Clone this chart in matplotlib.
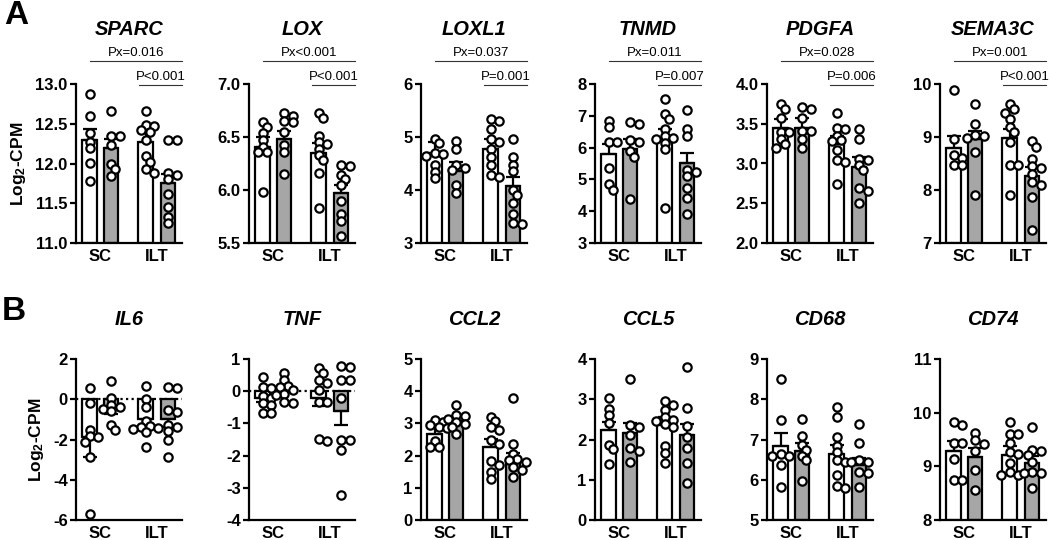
import matplotlib
matplotlib.use('Agg')
import matplotlib.pyplot as plt
import matplotlib.transforms as mtransforms

plt.rcParams['font.family'] = ['Liberation Sans', 'DejaVu Sans']
plt.rcParams['mathtext.default'] = 'regular'
plt.rcParams['axes.unicode_minus'] = False

groups = ['SC', 'ILT']
# order of bars: SC white, SC gray, ILT white, ILT gray

# ---- panel A ----
sparc_pts = [[12.88, 12.60, 12.38, 12.27, 12.19, 12.01, 11.78],
             [12.66, 12.35, 12.35, 12.23, 11.99, 11.93, 11.84],
             [12.66, 12.48, 12.47, 12.42, 12.40, 12.30, 12.09, 12.02, 11.93, 11.88],
             [12.30, 12.29, 11.88, 11.85, 11.80, 11.62, 11.45, 11.33, 11.25]]
sparc_mean = [12.30, 12.19, 12.27, 11.75]
sparc_sem = [0.14, 0.12, 0.13, 0.12]

lox_pts = [[6.64, 6.59, 6.54, 6.47, 6.41, 6.36, 6.36, 5.98],
           [6.73, 6.70, 6.65, 6.64, 6.55, 6.42, 6.36, 6.15],
           [6.73, 6.68, 6.51, 6.45, 6.43, 6.39, 6.33, 6.28, 6.16, 5.83],
           [6.24, 6.23, 6.14, 6.10, 6.05, 5.90, 5.77, 5.71, 5.57]]
lox_mean = [6.41, 6.48, 6.35, 5.97]
lox_sem = [0.09, 0.08, 0.09, 0.08]

loxl1_pts = [[4.97, 4.88, 4.70, 4.67, 4.65, 4.47, 4.34, 4.22],
             [4.93, 4.78, 4.47, 4.42, 4.38, 4.10, 3.94],
             [5.34, 5.31, 5.15, 4.96, 4.90, 4.78, 4.62, 4.47, 4.28, 4.25],
             [4.96, 4.62, 4.47, 4.35, 4.00, 3.91, 3.76, 3.54, 3.38, 3.35]]
loxl1_mean = [4.69, 4.35, 4.78, 4.08]
loxl1_sem = [0.21, 0.18, 0.18, 0.17]

tnmd_pts = [[6.84, 6.64, 6.17, 6.17, 5.35, 4.85, 4.67],
            [6.81, 6.74, 6.25, 6.17, 5.88, 5.70, 4.39],
            [7.54, 7.05, 6.90, 6.58, 6.38, 6.30, 6.27, 6.15, 5.96, 4.11],
            [7.18, 6.58, 6.38, 5.30, 5.22, 5.10, 4.73, 4.40, 3.90]]
tnmd_mean = [5.81, 5.96, 6.27, 5.53]
tnmd_sem = [0.31, 0.31, 0.31, 0.31]

pdgfa_pts = [[3.75, 3.69, 3.57, 3.39, 3.39, 3.31, 3.24, 3.19],
             [3.71, 3.68, 3.57, 3.41, 3.41, 3.31, 3.19],
             [3.63, 3.45, 3.43, 3.35, 3.29, 3.28, 3.17, 3.04, 3.02, 2.74],
             [3.44, 3.31, 3.06, 3.04, 2.98, 2.92, 2.69, 2.65, 2.50]]
pdgfa_mean = [3.45, 3.45, 3.25, 2.95]
pdgfa_sem = [0.11, 0.12, 0.10, 0.13]

sema3c_pts = [[9.88, 8.96, 8.66, 8.60, 8.48, 8.47],
              [9.63, 9.24, 9.04, 9.01, 8.98, 8.72, 7.91],
              [9.62, 9.52, 9.46, 9.34, 9.18, 9.09, 8.90, 8.48, 8.47, 7.91],
              [8.93, 8.82, 8.59, 8.45, 8.41, 8.30, 8.16, 8.10, 7.86, 7.24]]
sema3c_mean = [8.80, 8.96, 8.98, 8.27]
sema3c_sem = [0.21, 0.16, 0.17, 0.17]

# ---- panel B ----
il6_pts = [[0.55, -0.2, -1.55, -1.85, -1.9, -2.1, -2.85, -5.7],
           [0.9, 0.05, -0.3, -0.4, -0.5, -0.6, -1.3, -1.55],
           [0.65, 0.0, -0.4, -1.1, -1.35, -1.4, -1.45, -1.5, -1.65, -2.35],
           [0.6, 0.55, -0.55, -0.65, -1.3, -1.4, -1.6, -2.0, -2.85]]
il6_mean = [-1.9, -0.45, -1.0, -1.0]
il6_sem = [0.95, 0.28, 0.35, 0.4]

tnf_pts = [[0.43, 0.12, 0.10, -0.14, -0.22, -0.37, -0.42, -0.68, -0.68],
           [0.58, 0.34, 0.17, 0.12, 0.04, -0.08, -0.12, -0.35, -0.37],
           [0.72, 0.58, 0.36, 0.25, 0.05, -0.32, -0.32, -1.49, -1.56],
           [0.79, 0.75, 0.36, 0.36, -0.21, -1.51, -1.51, -1.82, -3.22]]
tnf_mean = [-0.2, 0.05, -0.2, -0.63]
tnf_sem = [0.12, 0.1, 0.25, 0.42]

ccl2_pts = [[3.11, 3.05, 2.95, 2.88, 2.85, 2.45, 2.28, 2.27],
            [3.58, 3.27, 3.24, 3.15, 3.05, 2.99, 2.90, 2.68],
            [3.20, 3.06, 2.90, 2.78, 2.47, 2.35, 1.82, 1.71, 1.50, 1.27],
            [3.79, 2.37, 2.05, 1.90, 1.87, 1.80, 1.66, 1.55, 1.35]]
ccl2_mean = [2.68, 3.06, 2.28, 1.82]
ccl2_sem = [0.22, 0.15, 0.24, 0.25]

ccl5_pts = [[3.03, 2.75, 2.60, 2.41, 1.87, 1.76, 1.39],
            [3.51, 2.35, 2.32, 2.12, 1.78, 1.72, 1.45],
            [2.95, 2.86, 2.74, 2.56, 2.49, 2.47, 2.39, 2.32, 1.83, 1.66, 1.41],
            [3.80, 2.78, 2.34, 2.07, 1.78, 1.41, 0.91]]
ccl5_mean = [2.24, 2.16, 2.37, 2.12]
ccl5_sem = [0.19, 0.25, 0.18, 0.27]

cd68_pts = [[8.50, 7.49, 6.64, 6.59, 6.58, 6.37, 5.83],
            [7.51, 7.09, 6.87, 6.74, 6.60, 6.49, 5.97],
            [7.80, 7.57, 7.07, 6.85, 6.70, 6.49, 6.45, 6.12, 5.85, 5.79],
            [7.39, 6.91, 6.50, 6.45, 6.43, 6.20, 6.16, 5.83]]
cd68_mean = [6.84, 6.72, 6.64, 6.37]
cd68_sem = [0.32, 0.19, 0.23, 0.17]

cd74_pts = [[9.82, 9.77, 9.43, 9.43, 9.13, 8.75, 8.75],
            [9.62, 9.49, 9.42, 9.28, 8.93, 8.56],
            [9.82, 9.61, 9.61, 9.43, 9.26, 9.23, 9.07, 8.90, 8.84, 8.84],
            [9.74, 9.31, 9.28, 9.21, 9.09, 8.90, 8.88, 8.87, 8.59]]
cd74_mean = [9.29, 9.18, 9.21, 9.07]
cd74_sem = [0.19, 0.16, 0.16, 0.12]

# (name, points, mean, sem, ylim, ticks, tick format, Px text, P text)
row_a = [('SPARC', sparc_pts, sparc_mean, sparc_sem, (11, 13), [11, 11.5, 12, 12.5, 13], '{:.1f}', 'Px=0.016', 'P<0.001'),
         ('LOX', lox_pts, lox_mean, lox_sem, (5.5, 7), [5.5, 6, 6.5, 7], '{:.1f}', 'Px<0.001', 'P<0.001'),
         ('LOXL1', loxl1_pts, loxl1_mean, loxl1_sem, (3, 6), [3, 4, 5, 6], '{:.0f}', 'Px=0.037', 'P=0.001'),
         ('TNMD', tnmd_pts, tnmd_mean, tnmd_sem, (3, 8), [3, 4, 5, 6, 7, 8], '{:.0f}', 'Px=0.011', 'P=0.007'),
         ('PDGFA', pdgfa_pts, pdgfa_mean, pdgfa_sem, (2, 4), [2, 2.5, 3, 3.5, 4], '{:.1f}', 'Px=0.028', 'P=0.006'),
         ('SEMA3C', sema3c_pts, sema3c_mean, sema3c_sem, (7, 10), [7, 8, 9, 10], '{:.0f}', 'Px=0.001', 'P<0.001')]
row_b = [('IL6', il6_pts, il6_mean, il6_sem, (-6, 2), [-6, -4, -2, 0, 2], '{:.0f}', None, None),
         ('TNF', tnf_pts, tnf_mean, tnf_sem, (-4, 1), [-4, -3, -2, -1, 0, 1], '{:.0f}', None, None),
         ('CCL2', ccl2_pts, ccl2_mean, ccl2_sem, (0, 5), [0, 1, 2, 3, 4, 5], '{:.0f}', None, None),
         ('CCL5', ccl5_pts, ccl5_mean, ccl5_sem, (0, 4), [0, 1, 2, 3, 4], '{:.0f}', None, None),
         ('CD68', cd68_pts, cd68_mean, cd68_sem, (5, 9), [5, 6, 7, 8, 9], '{:.0f}', None, None),
         ('CD74', cd74_pts, cd74_mean, cd74_sem, (8, 11), [8, 9, 10, 11], '{:.0f}', None, None)]

xpos = [0, 1, 2.6, 3.65]
fills = ['white', '#a6a6a6', 'white', '#a6a6a6']
XMIN, XMAX = -0.64, 4.3

W, H = 1050, 540
fig = plt.figure(figsize=(W / 100, H / 100), dpi=100)
lefts = [76, 249, 421, 595, 767, 940]
ax_w = 106


def swarm(vals, center, ppu_x, ppu_y, d=8.5):
    # simple beeswarm: keep points close to the bar centre, allow some overlap
    placed = []
    order = sorted(range(len(vals)), key=lambda i: -vals[i])
    out = [0] * len(vals)
    for i in order:
        v = vals[i]
        best = None
        for k in [0, 1, -1, 2, -2, 3, -3]:
            off = k * d * 0.5
            if all((off - ox) ** 2 + ((v - ov) * ppu_y) ** 2 >= (d * 0.7) ** 2 for ox, ov in placed):
                best = off
                break
        if best is None:
            best = 0.0
        placed.append((best, v))
        out[i] = center + best / ppu_x
    return out


def draw(ax, panel, ax_h, first):
    name, pts, mean, sem, ylim, ticks, fmt, px_txt, p_txt = panel
    base = 0 if ylim[0] < 0 else ylim[0]
    ppu_x = ax_w / (XMAX - XMIN)
    ppu_y = ax_h / (ylim[1] - ylim[0])
    if base == 0 and ylim[0] < 0:
        ax.axhline(0, color='black', lw=1.6, ls=(0, (1, 1.5)), zorder=1)
    for i in range(4):
        ax.bar(xpos[i], mean[i] - base, bottom=base, width=0.68, color=fills[i],
               edgecolor='black', linewidth=1.6, zorder=2)
        if mean[i] >= base:
            yerr = [[0], [sem[i]]]
        else:
            yerr = [[sem[i]], [0]]
        ax.errorbar([xpos[i]], [mean[i]], yerr=yerr, fmt='none', ecolor='black',
                    elinewidth=1.6, capsize=5, capthick=1.6, zorder=3)
        xs = swarm(pts[i], xpos[i], ppu_x, ppu_y)
        ax.scatter(xs, pts[i], s=36, facecolor='white', edgecolor='black',
                   linewidth=1.6, zorder=4, clip_on=False)
    ax.set_xlim(XMIN, XMAX)
    ax.set_ylim(*ylim)
    ax.set_yticks(ticks)
    ax.set_yticklabels([fmt.format(t) for t in ticks])
    ax.set_xticks([(xpos[0] + xpos[1]) / 2, (xpos[2] + xpos[3]) / 2])
    ax.set_xticklabels(groups)
    for s in ['top', 'right']:
        ax.spines[s].set_visible(False)
    for s in ['left', 'bottom']:
        ax.spines[s].set_linewidth(1.6)
    ax.tick_params(axis='y', length=4, width=1.6, labelsize=12, pad=2)
    ax.tick_params(axis='x', length=0, labelsize=12, pad=4)
    for lab in ax.get_xticklabels() + ax.get_yticklabels():
        lab.set_fontweight('bold')
    if first:
        ax.set_ylabel('Log$_2$-CPM', fontsize=12.5, fontweight='bold', labelpad=5)
    tr = mtransforms.blended_transform_factory(ax.transData, ax.transAxes)
    if px_txt:
        ax.set_title(name, fontsize=14.5, fontweight='bold', style='italic', y=1.31, pad=0)
        y1 = 1.145
        ax.plot([xpos[0], XMAX], [y1, y1], transform=tr, color='#333333', lw=0.8, clip_on=False)
        ax.text((xpos[0] + XMAX) / 2, y1 + 0.012, px_txt, transform=tr, ha='center', va='bottom', fontsize=9.5)
        y2 = 0.995
        x0 = xpos[2] - 0.3
        ax.plot([x0, XMAX], [y2, y2], transform=tr, color='#333333', lw=0.8, clip_on=False)
        ax.text((x0 + XMAX) / 2, y2 + 0.012, p_txt, transform=tr, ha='center', va='bottom', fontsize=9.5)
    else:
        ax.set_title(name, fontsize=14.5, fontweight='bold', style='italic', y=1.21, pad=0)


top_a, bot_a = 84, 243
top_b, bot_b = 359, 520
for j, panel in enumerate(row_a):
    ax = fig.add_axes([lefts[j] / W, 1 - bot_a / H, ax_w / W, (bot_a - top_a) / H])
    draw(ax, panel, bot_a - top_a, j == 0)
for j, panel in enumerate(row_b):
    ax = fig.add_axes([lefts[j] / W, 1 - bot_b / H, ax_w / W, (bot_b - top_b) / H])
    draw(ax, panel, bot_b - top_b, j == 0)

fig.text(16 / W, 1 - 15 / H, 'A', fontsize=24, fontweight='bold', ha='center', va='center')
fig.text(14 / W, 1 - 311 / H, 'B', fontsize=24, fontweight='bold', ha='center', va='center')

fig.savefig('out.png', dpi=100)
